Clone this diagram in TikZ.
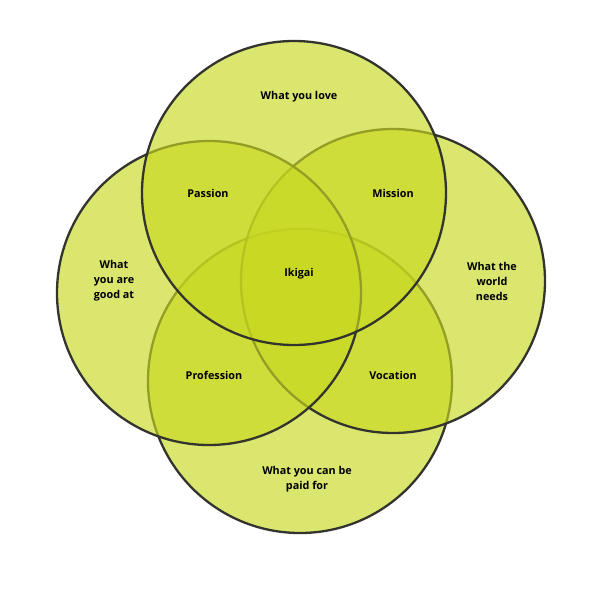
\documentclass[tikz,border=0pt]{standalone}
\usepackage{fontspec}
\setmainfont{Open Sans}
\definecolor{ikiFill}{RGB}{200,216,32}
\definecolor{ikiLine}{RGB}{52,52,46}
\tikzset{every picture/.style={line width=0.75pt}}
\tikzset{ring/.style={color=ikiLine, line width=2.3, fill=ikiFill, fill opacity=0.65},
  lbl/.style={inner sep=0.75pt, align=center, font=\bfseries\fontsize{10.8}{15}\selectfont}}

\begin{document}
\begin{tikzpicture}[x=1pt,y=1pt,yscale=-1]
    \useasboundingbox (0,0) rectangle (600,600);

    %Shape: Circle [id:paid]
    \draw [ring] (300,381) circle (152) ;
    %Shape: Circle [id:needs]
    \draw [ring] (393,281) circle (152) ;
    %Shape: Circle [id:good]
    \draw [ring] (209,293) circle (152) ;
    %Shape: Circle [id:love]
    \draw [ring] (294,193) circle (152) ;

    % Text Node
    \draw (299,97) node [lbl] (love) {What you love};
    % Text Node
    \draw (208,193) node [lbl] (passion) {Passion};
    % Text Node
    \draw (393,193) node [lbl] (mission) {Mission};
    % Text Node
    \draw (114,281) node [lbl] (good) {What\\you are\\good at};
    % Text Node
    \draw (299,274) node [lbl] (ikigai) {Ikigai};
    % Text Node
    \draw (492,281) node [lbl] (needs) {What the\\world\\needs};
    % Text Node
    \draw (214,375) node [lbl] (profession) {Profession};
    % Text Node
    \draw (393,375) node [lbl] (vocation) {Vocation};
    % Text Node
    \draw (307,479) node [lbl] (paid) {What you can be\\paid for};

\end{tikzpicture}
\end{document}
